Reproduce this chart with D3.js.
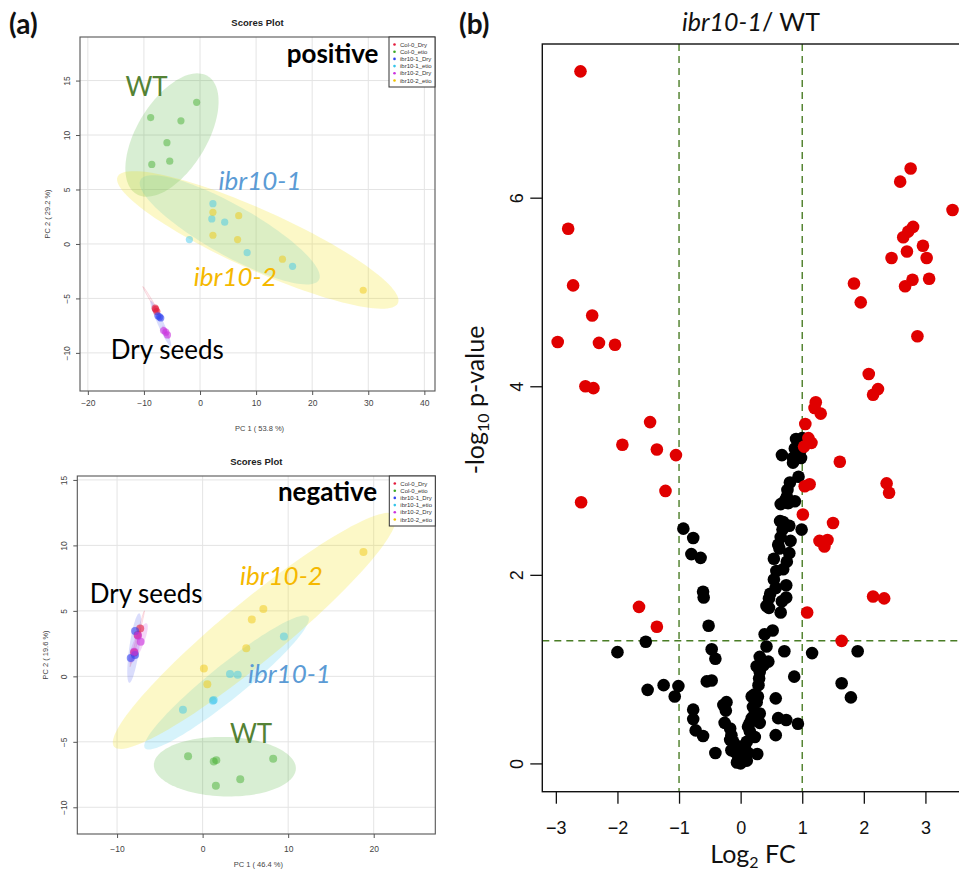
<!DOCTYPE html>
<html>
<head>
<meta charset="utf-8">
<style>
  body { margin: 0; background: #fff; }
  svg { display: block; }
  .pca-tick text { font-family: "Liberation Sans", Arial, sans-serif; font-size: 8.5px; fill: #444; }
  .pca-tick line { stroke: #555; }
  .vol-tick text { font-family: "Liberation Sans", Arial, sans-serif; font-size: 18px; fill: #111; }
  .vol-tick line { stroke: #111; stroke-width: 1.3px; }
  .note { font-family: Lato, "Open Sans", sans-serif; }
</style>
</head>
<body>
<svg width="959" height="870"></svg>
<script src="https://d3js.org/d3.v7.min.js"></script>
<script>
// ---- data ----
const groups = ["Col-0_Dry", "Col-0_etio", "ibr10-1_Dry", "ibr10-1_etio", "ibr10-2_Dry", "ibr10-2_etio"];

// positive mode PCA scores [PC1, PC2]
const posCol0Dry = [[-7.9, -6.0], [-7.7, -6.2], [-8.0, -5.9]];
const posCol0Etio = [[-8.8, 11.6], [-3.4, 11.3], [-0.6, 13.0], [-5.9, 9.3], [-8.6, 7.3], [-5.4, 7.6]];
const posIbr1Dry = [[-7.5, -6.6], [-7.0, -6.8], [-7.2, -6.7]];
const posIbr1Etio = [[2.3, 3.7], [2.1, 2.3], [4.4, 2.0], [-1.9, 0.4], [8.4, -0.8], [16.5, -2.05]];
const posIbr2Dry = [[-6.5, -7.95], [-6.1, -8.1], [-5.8, -8.35]];
const posIbr2Etio = [[2.3, 2.9], [6.9, 2.6], [2.3, 0.8], [6.7, 0.4], [14.7, -1.4], [29.1, -4.25]];

// negative mode PCA scores [PC1, PC2]
const negCol0Dry = [[-7.3, 3.66], [-8.0, 1.83], [-7.6, 3.15]];
const negCol0Etio = [[-1.7, -6.1], [1.3, -6.5], [1.6, -6.4], [8.25, -6.3], [4.4, -7.85], [1.55, -8.35]];
const negIbr1Dry = [[-7.9, 3.46], [-8.4, 1.4], [-7.9, 1.63]];
const negIbr1Etio = [[3.2, 0.18], [4.1, 0.12], [9.5, 3.05], [1.2, -1.86], [1.3, -1.8], [-2.3, -2.55]];
const negIbr2Dry = [[-7.55, 3.1], [-7.25, 2.64], [-8.0, 1.88]];
const negIbr2Etio = [[18.8, 9.5], [7.1, 5.15], [5.75, 4.35], [5.1, 2.15], [0.15, 0.6], [0.55, -0.6]];

// 95% regions: centre + two conjugate semi-axes, in PC units, one per group
const posEllipses = [
  [[-8.7, -5.2], [1.5, -1.3], [-0.15, -0.05]],
  [[-5.0, 10.0], [6.4, 5.4], [5.3, -1.7]],
  [[-7.0, -7.3], [1.8, -2.1], [-0.5, -0.11]],
  [[5.3, 1.3], [15.9, -4.6], [-2.2, -2.0]],
  [[-6.1, -8.1], [0.6, -0.6], [-0.3, -0.1]],
  [[10.3, 0.37], [25.0, -5.8], [-2.2, -2.5]]
];
const negEllipses = [
  [[-7.65, 2.87], [0.84, 2.14], [0.12, -0.01]],
  [[2.6, -6.9], [8.3, -0.15], [0.1, 2.27]],
  [[-7.99, 2.16], [0.58, 2.65], [0.58, -0.054]],
  [[2.8, -0.47], [9.54, 5.02], [1.25, -1.01]],
  [[-7.52, 2.52], [0.97, 1.53], [0.54, -0.15]],
  [[6.05, 3.47], [16.4, 8.84], [2.23, -1.77]]
];

const posTicksX = [-20, -10, 0, 10, 20, 30, 40];
const posTicksY = [-10, -5, 0, 5, 10, 15];
const negTicksX = [-10, 0, 10, 20];
const negTicksY = [-10, -5, 0, 5, 10, 15];

// volcano: [log2 FC, -log10 p]
const volBlack = [
  [0.90, 3.44], [1.00, 3.45], [0.88, 3.34], [0.97, 3.32], [0.67, 3.27], [0.85, 3.24], [0.98, 3.24], [0.85, 3.19],
  [0.94, 3.04], [0.80, 2.98], [0.76, 2.90], [0.75, 2.83], [0.88, 2.78], [0.72, 2.79], [0.65, 2.75], [0.77, 2.76],
  [0.64, 2.57], [0.69, 2.56], [0.79, 2.52], [0.99, 2.48], [0.68, 2.48], [0.65, 2.40], [0.81, 2.36], [0.61, 2.32],
  [0.63, 2.28], [0.79, 2.23], [0.54, 2.17], [0.75, 2.14], [0.69, 2.06], [0.58, 2.04], [0.54, 1.95], [0.74, 1.89],
  [0.57, 1.86], [0.48, 1.80], [0.74, 1.76], [0.46, 1.75], [0.67, 1.72], [0.42, 1.67], [0.46, 1.65], [0.65, 1.60],
  [-0.93, 2.49], [-0.77, 2.39], [-0.80, 2.22], [-0.65, 2.18], [-0.61, 1.82], [-0.60, 1.76], [-0.52, 1.46],
  [0.52, 1.41], [0.39, 1.37], [-1.54, 1.29], [-2.00, 1.18], [-0.47, 1.21], [-0.41, 1.11], [0.42, 1.24],
  [0.71, 1.19], [1.16, 1.17], [1.90, 1.19], [0.31, 1.13], [0.45, 1.08], [0.26, 1.03], [0.37, 1.04], [0.31, 0.97],
  [0.30, 0.90], [0.29, 0.83], [-0.55, 0.87], [-0.47, 0.88], [0.87, 0.92], [1.64, 0.85], [1.79, 0.70],
  [-1.51, 0.78], [-1.25, 0.83], [-1.01, 0.82], [-1.07, 0.71], [0.22, 0.73], [0.26, 0.65], [0.57, 0.69],
  [-0.23, 0.65], [-0.28, 0.62], [-0.24, 0.56], [-0.77, 0.57], [-0.77, 0.47], [-0.73, 0.35], [-0.61, 0.29],
  [0.20, 0.60], [0.23, 0.53], [0.31, 0.53], [0.18, 0.48], [0.31, 0.43], [0.61, 0.48], [0.74, 0.46], [0.93, 0.42],
  [-0.26, 0.43], [-0.17, 0.37], [0.12, 0.39], [0.15, 0.34], [0.23, 0.28], [-0.15, 0.30], [-0.12, 0.23],
  [0.10, 0.23], [0.57, 0.30], [-0.15, 0.14], [-0.09, 0.12], [0.07, 0.16], [0.12, 0.11], [0.27, 0.10],
  [-0.41, 0.11], [-0.04, 0.04], [0.04, 0.07], [0.00, 0.00], [-0.06, 0.01], [0.10, 0.03], [0.18, 0.71],
  [0.28, 0.71], [0.15, 0.43], [-0.01, 0.18], [-0.17, 0.25]
];
const volRed = [
  [-2.60, 7.34], [-2.80, 5.67], [-2.72, 5.07], [-2.41, 4.75], [2.76, 6.31], [2.59, 6.17], [3.44, 5.87],
  [2.80, 5.69], [2.72, 5.64], [2.64, 5.58], [2.96, 5.49], [2.70, 5.43], [2.45, 5.36], [3.02, 5.36],
  [1.84, 5.09], [2.79, 5.13], [3.06, 5.14], [2.67, 5.06], [1.95, 4.89], [-2.97, 4.47], [-2.30, 4.46],
  [-2.04, 4.44], [2.87, 4.53], [-2.52, 4.00], [-2.39, 3.98], [2.08, 4.13], [2.23, 3.97], [2.15, 3.91],
  [1.22, 3.83], [1.20, 3.77], [1.30, 3.71], [-1.47, 3.62], [1.05, 3.60], [-1.92, 3.38], [-1.36, 3.33],
  [-1.05, 3.27], [1.10, 3.45], [1.15, 3.40], [1.03, 3.36], [1.61, 3.20], [2.37, 2.97], [2.41, 2.87],
  [1.12, 2.96], [1.04, 2.94], [-1.22, 2.89], [-2.59, 2.77], [1.01, 2.64], [1.50, 2.55], [1.28, 2.36],
  [1.41, 2.37], [1.36, 2.30], [2.15, 1.77], [2.33, 1.75], [-1.65, 1.66], [1.08, 1.60], [-1.36, 1.45],
  [1.64, 1.30]
];
const fcCut = [-1, 1];
const pCut = 1.301;
const volTicksX = [-3, -2, -1, 0, 1, 2, 3];
const volTicksY = [0, 2, 4, 6];

// ---- styles ----
const groupColors = ["#e41a3c", "#3aa823", "#3344ee", "#33c4ea", "#cc33dd", "#f0c400"];
const ellipseColors = ["#e41a3c", "#3aa823", "#4455ee", "#33c4ea", "#cc33dd", "#f2e000"];
const ellipseAlpha = [0.08, 0.2, 0.2, 0.2, 0.2, 0.22];
const labelGreen = "#548235", labelBlue = "#5b9bd5", labelGold = "#f5b800";

let svg = d3.select("svg");

function drawPca(p) {
  let g = svg.append("g");
  let x = d3.scaleLinear().domain(p.xDomain).range([p.left, p.right]);
  let y = d3.scaleLinear().domain(p.yDomain).range([p.bottom, p.top]);

  // grid
  g.selectAll(".gx").data(p.xTicks).join("line")
    .attr("x1", d => x(d)).attr("x2", d => x(d))
    .attr("y1", p.top).attr("y2", p.bottom)
    .style("stroke", "#e4e4e4").style("stroke-width", 1);
  g.selectAll(".gy").data(p.yTicks).join("line")
    .attr("y1", d => y(d)).attr("y2", d => y(d))
    .attr("x1", p.left).attr("x2", p.right)
    .style("stroke", "#e4e4e4").style("stroke-width", 1);

  // ellipses
  let ts = d3.range(0, 2 * Math.PI + 0.01, Math.PI / 60);
  let ell = d3.line()
    .x(d => x(d.c[0] + d.u[0] * Math.cos(d.t) + d.v[0] * Math.sin(d.t)))
    .y(d => y(d.c[1] + d.u[1] * Math.cos(d.t) + d.v[1] * Math.sin(d.t)));
  g.selectAll(".ell").data(p.ellipses).join("path")
    .attr("d", e => ell(ts.map(t => ({ c: e[0], u: e[1], v: e[2], t: t }))))
    .style("fill", (e, i) => ellipseColors[i])
    .style("fill-opacity", (e, i) => ellipseAlpha[i])
    .style("stroke", (e, i) => (i == 0 ? ellipseColors[0] : "none"))
    .style("stroke-opacity", 0.18)
    .style("stroke-width", 0.7);

  // points
  p.scores.forEach(function (pts, i) {
    g.selectAll(".pt" + i).data(pts).join("circle")
      .attr("cx", d => x(d[0])).attr("cy", d => y(d[1]))
      .attr("r", p.r)
      .style("fill", groupColors[i])
      .style("fill-opacity", i % 2 == 0 ? 0.6 : 0.45);
  });

  // frame + axes
  g.append("rect")
    .attr("x", p.left).attr("y", p.top)
    .attr("width", p.right - p.left).attr("height", p.bottom - p.top)
    .style("fill", "none").style("stroke", "#555").style("stroke-width", 1.1);

  let xa = g.append("g").attr("class", "pca-tick")
    .attr("transform", `translate(0,${p.bottom})`)
    .call(d3.axisBottom(x).tickValues(p.xTicks).tickSize(4).tickPadding(p.xPad).tickFormat(d3.format("d")));
  xa.select(".domain").remove();

  let ya = g.append("g").attr("class", "pca-tick")
    .attr("transform", `translate(${p.left},0)`)
    .call(d3.axisLeft(y).tickValues(p.yTicks).tickSize(4).tickFormat(d3.format("d")));
  ya.select(".domain").remove();
  ya.selectAll("text")
    .attr("transform", "rotate(-90)")
    .attr("x", 0).attr("y", -p.yPad).attr("dy", 0)
    .attr("text-anchor", "middle");

  let axisFont = "'Liberation Sans', Arial, sans-serif";
  g.append("text")
    .attr("x", (p.left + p.right) / 2).attr("y", p.titleY)
    .attr("text-anchor", "middle")
    .style("font-family", axisFont).style("font-weight", "bold").style("font-size", "9.5px")
    .style("fill", "#222")
    .text("Scores Plot");
  g.append("text")
    .attr("x", (p.left + p.right) / 2 + 2).attr("y", p.xLabY)
    .attr("text-anchor", "middle")
    .style("font-family", axisFont).style("font-size", "7.5px").style("fill", "#444")
    .text(p.xLab);
  g.append("text")
    .attr("transform", `translate(${p.yLabX},${(p.top + p.bottom) / 2}) rotate(-90)`)
    .attr("text-anchor", "middle")
    .style("font-family", axisFont).style("font-size", "7.5px").style("fill", "#444")
    .text(p.yLab);

  // legend
  let lg = g.append("g").attr("transform", `translate(${p.right - 46},${p.top})`);
  lg.append("rect").attr("width", 46).attr("height", 50)
    .style("fill", "#fff").style("stroke", "#333").style("stroke-width", 1);
  lg.selectAll("circle").data(groups).join("circle")
    .attr("cx", 5.5).attr("cy", (d, i) => 7.5 + i * 7.2).attr("r", 1.3)
    .style("fill", (d, i) => groupColors[i]);
  lg.selectAll("text").data(groups).join("text")
    .attr("x", 11).attr("y", (d, i) => 9.6 + i * 7.2)
    .style("font-family", axisFont).style("font-size", "6px").style("fill", "#333")
    .text(d => d);

  // annotations
  p.notes.forEach(function (n) {
    g.append("text")
      .attr("class", "note")
      .attr("x", x(n.at[0])).attr("y", y(n.at[1]))
      .attr("text-anchor", n.anchor || "start")
      .style("font-size", "26px")
      .style("font-weight", n.bold ? "bold" : "normal")
      .style("font-style", n.italic ? "italic" : "normal")
      .style("fill", n.color)
      .text(n.text);
  });
}

drawPca({
  left: 80, right: 435, top: 37, bottom: 391,
  xDomain: [-21.4, 41.9], yDomain: [-13.5, 19.0],
  xTicks: posTicksX, yTicks: posTicksY, xPad: 5, yPad: 10,
  titleY: 26, xLabY: 431, yLabX: 50, r: 3.6,
  xLab: "PC 1 ( 53.8 %)", yLab: "PC 2 ( 29.2 %)",
  scores: [posCol0Dry, posCol0Etio, posIbr1Dry, posIbr1Etio, posIbr2Dry, posIbr2Etio],
  ellipses: posEllipses,
  notes: [
    { text: "positive", at: [31.8, 16.6], anchor: "end", bold: true, color: "#000" },
    { text: "WT", at: [-13.3, 13.6], color: labelGreen },
    { text: "ibr10-1", at: [3.3, 4.95], italic: true, color: labelBlue },
    { text: "ibr10-2", at: [-1.1, -3.85], italic: true, color: labelGold },
    { text: "Dry seeds", at: [-15.9, -10.6], color: "#000" }
  ]
});

drawPca({
  left: 77.3, right: 435.3, top: 476, bottom: 834,
  xDomain: [-14.65, 27.2], yDomain: [-12.04, 15.3],
  xTicks: negTicksX, yTicks: negTicksY, xPad: 8, yPad: 10.8,
  titleY: 465, xLabY: 867, yLabX: 48, r: 4,
  xLab: "PC 1 ( 46.4 %)", yLab: "PC 2 ( 19.6 %)",
  scores: [negCol0Dry, negCol0Etio, negIbr1Dry, negIbr1Etio, negIbr2Dry, negIbr2Etio],
  ellipses: negEllipses,
  notes: [
    { text: "negative", at: [20.4, 13.4], anchor: "end", bold: true, color: "#000" },
    { text: "ibr10-2", at: [4.36, 6.97], italic: true, color: labelGold },
    { text: "Dry seeds", at: [-13.2, 5.6], color: "#000" },
    { text: "ibr10-1", at: [5.3, -0.49], italic: true, color: labelBlue },
    { text: "WT", at: [3.19, -5.11], color: labelGreen }
  ]
});

// ---- volcano ----
let vLeft = 542.3, vTop = 44, vBottom = 791.7;
let vx = d3.scaleLinear().domain([-3.22, 3.8]).range([vLeft, 974.7]);
let vy = d3.scaleLinear().domain([-0.30, 7.63]).range([vBottom, vTop]);
let vg = svg.append("g");

let cutColor = "#4a7d26";
vg.selectAll(".vcut").data(fcCut).join("line")
  .attr("x1", d => vx(d)).attr("x2", d => vx(d))
  .attr("y1", vTop).attr("y2", vBottom)
  .style("stroke", cutColor).style("stroke-width", 1.4).style("stroke-dasharray", "7,5");
vg.append("line")
  .attr("x1", vLeft).attr("x2", 974.7)
  .attr("y1", vy(pCut)).attr("y2", vy(pCut))
  .style("stroke", cutColor).style("stroke-width", 1.4).style("stroke-dasharray", "7,5");

vg.selectAll(".blk").data(volBlack).join("circle")
  .attr("cx", d => vx(d[0])).attr("cy", d => vy(d[1])).attr("r", 6.3)
  .style("fill", "#000");
vg.selectAll(".red").data(volRed).join("circle")
  .attr("cx", d => vx(d[0])).attr("cy", d => vy(d[1])).attr("r", 6.3)
  .style("fill", "#e00000");

vg.append("rect")
  .attr("x", vLeft).attr("y", vTop)
  .attr("width", 974.7 - vLeft).attr("height", vBottom - vTop)
  .style("fill", "none").style("stroke", "#111").style("stroke-width", 1.4);

let vxa = vg.append("g").attr("class", "vol-tick")
  .attr("transform", `translate(0,${vBottom})`)
  .call(d3.axisBottom(vx).tickValues(volTicksX).tickSize(12).tickPadding(18).tickFormat(d3.format("d")));
vxa.select(".domain").remove();

let vya = vg.append("g").attr("class", "vol-tick")
  .attr("transform", `translate(${vLeft},0)`)
  .call(d3.axisLeft(vy).tickValues(volTicksY).tickSize(12).tickFormat(d3.format("d")));
vya.select(".domain").remove();
vya.selectAll("text")
  .attr("transform", "rotate(-90)")
  .attr("x", 0).attr("y", -19.5).attr("dy", 0)
  .attr("text-anchor", "middle");

// titles and labels
let title = svg.append("text").attr("class", "note")
  .attr("x", 751).attr("y", 31).attr("text-anchor", "middle")
  .style("font-size", "25px").style("fill", "#111");
title.append("tspan").style("font-style", "italic").text("ibr10-1");
title.append("tspan").text("/ WT");

let xl = svg.append("text").attr("class", "note")
  .attr("x", 753).attr("y", 863).attr("text-anchor", "middle")
  .style("font-size", "25px").style("fill", "#111");
xl.append("tspan").text("Log");
xl.append("tspan").attr("dy", 5).style("font-size", "16px").text("2");
xl.append("tspan").attr("dy", -5).text(" FC");

let yl = svg.append("text").attr("class", "note")
  .attr("transform", "translate(484,400) rotate(-90)")
  .attr("text-anchor", "middle")
  .style("font-size", "25px").style("fill", "#111");
yl.append("tspan").text("-log");
yl.append("tspan").attr("dy", 5).style("font-size", "16px").text("10");
yl.append("tspan").attr("dy", -5).text(" p-value");

svg.append("text").attr("class", "note")
  .attr("x", 9).attr("y", 34)
  .style("font-size", "28px").style("font-weight", "bold").style("fill", "#111")
  .text("(a)");
svg.append("text").attr("class", "note")
  .attr("x", 459).attr("y", 34)
  .style("font-size", "28px").style("font-weight", "bold").style("fill", "#111")
  .text("(b)");
</script>
</body>
</html>
